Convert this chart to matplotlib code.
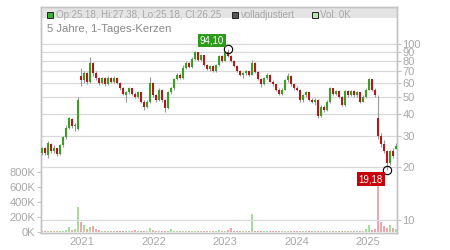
import numpy as np
import pandas as pd
import matplotlib
matplotlib.use("Agg")
import matplotlib.pyplot as plt
import matplotlib.dates as mdates
from matplotlib.patches import Rectangle

plt.rcParams['font.family'] = ['Liberation Sans', 'DejaVu Sans']

# candles (about one every 3 px)
opens = [
    24.0, 25.5, 23.5, 27.0, 24.5, 25.5, 23.8, 26.5, 29.5, 33.5,
    37.5, 34.0, 33.0, 66.0, 62.0, 68.0, 61.0, 78.0, 68.0, 64.0,
    60.0, 64.0, 59.0, 64.0, 61.0, 64.0, 60.0, 56.0, 51.0, 53.0,
    56.0, 52.0, 50.0, 53.0, 47.0, 44.0, 47.0, 60.0, 51.0, 48.0,
    55.0, 48.0, 43.0, 53.0, 56.0, 63.0, 67.0, 64.0, 73.0, 78.0,
    74.0, 82.0, 90.0, 81.0, 86.0, 76.0, 72.0, 75.0, 70.0, 76.0,
    85.0, 80.0, 90.0, 85.0, 80.0, 75.0, 70.0, 67.0, 68.0, 70.0,
    67.0, 78.0, 69.0, 63.0, 59.0, 64.0, 67.0, 61.0, 59.0, 55.0,
    52.0, 55.0, 62.0, 66.0, 59.0, 56.0, 55.0, 48.0, 51.0, 53.0,
    48.0, 47.0, 48.0, 39.0, 44.0, 42.0, 47.0, 56.0, 52.0, 54.0,
    50.0, 45.0, 54.0, 51.0, 54.0, 51.0, 53.0, 47.0, 50.0, 55.0,
    63.0, 55.0, 38.0, 30.0, 27.0, 24.5, 21.0, 24.5, 25.18,
]
closes = [
    25.5, 24.0, 27.5, 24.5, 25.5, 23.6, 26.5, 29.5, 33.5, 38.0,
    34.0, 34.5, 48.0, 62.0, 68.0, 61.0, 78.0, 68.0, 64.0, 60.0,
    64.0, 59.0, 64.0, 61.0, 64.0, 60.0, 56.0, 52.0, 53.0, 56.0,
    52.0, 50.0, 53.0, 47.0, 44.0, 47.0, 60.0, 51.0, 48.0, 55.0,
    48.0, 43.0, 53.0, 56.0, 63.0, 67.0, 64.0, 73.0, 78.0, 74.0,
    82.0, 90.0, 81.0, 86.0, 76.0, 72.0, 75.0, 70.0, 76.0, 85.0,
    80.0, 90.0, 85.0, 80.0, 75.0, 70.0, 67.0, 68.0, 70.0, 67.0,
    78.0, 69.0, 63.0, 59.0, 64.0, 67.0, 61.0, 59.0, 55.0, 52.0,
    55.0, 62.0, 66.0, 59.0, 56.0, 55.0, 48.0, 51.0, 53.0, 48.0,
    47.0, 48.0, 39.0, 44.0, 42.0, 47.0, 56.0, 52.0, 54.0, 50.0,
    45.0, 54.0, 51.0, 54.0, 51.0, 53.0, 47.0, 50.0, 55.0, 63.0,
    55.0, 51.0, 30.0, 27.0, 24.5, 21.0, 24.5, 23.0, 26.25,
]
highs = [
    26.0, 26.0, 28.0, 27.5, 26.5, 25.8, 27.0, 30.0, 34.5, 38.5,
    38.0, 35.5, 50.0, 73.0, 70.0, 69.0, 84.0, 79.0, 70.0, 65.0,
    65.0, 65.0, 66.0, 65.0, 65.5, 64.5, 61.0, 57.0, 54.0, 57.0,
    56.5, 53.5, 54.0, 53.5, 48.0, 48.0, 65.0, 61.0, 52.0, 56.0,
    55.5, 48.5, 54.0, 57.0, 64.0, 68.0, 68.0, 76.0, 80.0, 79.0,
    84.0, 91.0, 90.5, 87.0, 86.5, 77.0, 76.0, 75.5, 77.0, 86.0,
    87.0, 91.0, 94.10, 86.0, 81.0, 76.0, 71.0, 69.0, 71.0, 70.5,
    81.0, 78.5, 70.0, 64.0, 65.0, 68.0, 67.5, 62.0, 59.5, 56.0,
    56.0, 63.0, 68.0, 66.5, 59.5, 57.5, 55.5, 52.0, 54.0, 53.5,
    49.0, 49.0, 48.5, 45.0, 45.0, 48.0, 57.0, 56.5, 55.0, 54.5,
    50.5, 55.0, 55.0, 55.0, 54.5, 54.0, 53.5, 51.0, 56.0, 64.0,
    63.5, 56.0, 51.0, 31.0, 28.5, 25.0, 25.0, 25.5, 27.38,
]
lows = [
    23.5, 23.5, 22.5, 24.0, 24.0, 23.2, 23.5, 26.0, 29.0, 33.0,
    33.5, 32.0, 32.5, 58.0, 60.0, 59.0, 60.0, 66.0, 62.0, 58.5,
    59.0, 58.0, 58.5, 60.0, 60.0, 59.0, 55.0, 51.0, 47.0, 52.0,
    51.0, 49.0, 49.0, 46.0, 42.0, 43.0, 46.0, 50.0, 47.0, 47.5,
    47.0, 41.0, 42.5, 52.0, 55.0, 62.0, 63.0, 63.5, 72.0, 73.0,
    73.0, 81.0, 80.0, 80.0, 75.0, 71.0, 70.0, 69.0, 69.5, 75.0,
    79.0, 79.5, 84.0, 79.0, 74.0, 69.0, 66.0, 64.0, 67.0, 66.0,
    66.5, 68.0, 62.0, 57.0, 58.5, 63.0, 60.5, 58.0, 54.0, 51.0,
    51.5, 54.5, 61.0, 58.0, 55.0, 54.0, 47.0, 47.0, 50.0, 47.5,
    46.0, 45.0, 38.0, 38.5, 41.0, 41.5, 46.0, 51.0, 51.0, 49.0,
    44.5, 44.5, 50.0, 50.5, 50.0, 50.0, 46.0, 46.5, 49.5, 54.5,
    54.0, 50.0, 29.0, 26.0, 24.0, 19.18, 20.5, 22.5, 25.18,
]
# volume in thousands
volumes_k = [
    15, 12, 10, 8, 14, 9, 12, 18, 25, 65,
    30, 40, 330, 130, 90, 45, 70, 75, 40, 25,
    20, 15, 18, 12, 14, 20, 16, 12, 15, 10,
    14, 30, 12, 15, 20, 18, 55, 25, 12, 15,
    14, 18, 12, 40, 16, 14, 12, 18, 15, 20,
    14, 12, 18, 16, 20, 15, 12, 14, 16, 25,
    18, 14, 30, 60, 15, 12, 14, 10, 12, 15,
    235, 14, 12, 16, 10, 12, 15, 14, 12, 10,
    14, 16, 12, 10, 15, 14, 12, 16, 12, 10,
    14, 12, 15, 18, 12, 10, 14, 16, 12, 15,
    12, 10, 14, 12, 10, 8, 12, 15, 40, 90,
    30, 35, 760, 130, 80, 60, 90, 50, 40,
]

price_ticks = [10, 20, 30, 40, 50, 60, 70, 80, 90, 100]
vol_ticks = [0, 200000, 400000, 600000, 800000]
vol_labels = ['0K', '200K', '400K', '600K', '800K']
years = ['2021', '2022', '2023', '2024', '2025']

dates = pd.date_range('2020-06-10', '2025-05-23', periods=len(closes))
xd = mdates.date2num(dates)
o = np.array(opens)
c = np.array(closes)
h = np.array(highs)
l = np.array(lows)
up = c >= o
hi_idx = int(np.argmax(h))
lo_idx = int(np.argmin(l))

W, H = 450, 250
fig = plt.figure(figsize=(4.5, 2.5), dpi=100)
axv = fig.add_axes([41 / W, 17 / H, 356 / W, 226 / H])
ax = axv.twinx()

grey = '#a8a8a8'
edge = '#c4c4c4'

# volume (bottom axes)
axv.bar(xd, np.array(volumes_k) * 1000, width=9,
        color=np.where(up, '#a6dc9c', '#f2a3ab'), zorder=2)
axv.set_ylim(-13000, 3000000)
axv.set_yticks(vol_ticks)
axv.set_yticklabels(vol_labels)
axv.add_patch(Rectangle((0, 1 - 11 / 226), 1, 11 / 226, transform=axv.transAxes,
                        facecolor='#e4e4e4', edgecolor='none', zorder=0))

# price (top axes, log)
ax.set_yscale('log')
ax.set_ylim(8.44, 162)
ax.vlines(xd, l, h, colors='#9a9a9a', lw=0.8, zorder=3)
ax.vlines(xd, np.minimum(o, c), np.maximum(o, c),
          colors=np.where(up, '#3c9e24', '#b01a1a'), lw=1.5, zorder=4)
ax.set_yticks(price_ticks)
ax.set_yticklabels([str(t) for t in price_ticks])
ax.yaxis.set_minor_locator(matplotlib.ticker.NullLocator())

ax.plot(xd[hi_idx], h[hi_idx], 'o', ms=6, mfc='none', mec='black', mew=0.8, zorder=5)
ax.plot(xd[lo_idx], l[lo_idx], 'o', ms=6, mfc='none', mec='black', mew=0.8, zorder=5)
ax.annotate(f'{h[hi_idx]:.2f}'.replace('.', ','), xy=(xd[hi_idx], h[hi_idx]),
            xytext=(-4, 8), textcoords='offset pixels', ha='right', va='center',
            color='white', fontsize=7,
            bbox=dict(boxstyle='square,pad=0.2', fc='#2e9a1c', ec='none'), zorder=6)
ax.annotate(f'{l[lo_idx]:.2f}'.replace('.', ','), xy=(xd[lo_idx], l[lo_idx]),
            xytext=(-4, -9), textcoords='offset pixels', ha='right', va='center',
            color='white', fontsize=7,
            bbox=dict(boxstyle='square,pad=0.2', fc='#c8000a', ec='none'), zorder=6)

ax.set_xlim(mdates.date2num(pd.Timestamp('2020-06-05')),
            mdates.date2num(pd.Timestamp('2025-05-28')))
ax.set_xticks(mdates.date2num(pd.to_datetime([y + '-01-01' for y in years])))
axv.set_xticks(ax.get_xticks())
axv.set_xticklabels(years)
ax.grid(True, color='#d9d9d9', lw=0.9)

for a in (ax, axv):
    for s in a.spines.values():
        s.set_color(edge)
        s.set_linewidth(1)
    a.tick_params(colors=edge, labelcolor=grey, labelsize=8, length=3, width=0.8)
axv.tick_params(axis='x', length=0, pad=3)
ax.tick_params(axis='y', pad=1)
axv.tick_params(axis='y', pad=1)

# header legend
def fx(px):
    return px / W

def fy(py):
    return 1 - py / H

legend_items = [(46.5, '#3cb034', f'Op:{opens[-1]:.2f}, Hi:{highs[-1]:.2f}, '
                                  f'Lo:{lows[-1]:.2f}, Cl:{closes[-1]:.2f}'),
                (231.5, '#555555', 'volladjustiert'),
                (311.5, '#b8e6b0', 'Vol: 0K')]
for x0, col, txt in legend_items:
    fig.add_artist(Rectangle((fx(x0), fy(17.5)), 6 / W, 6 / H, transform=fig.transFigure,
                             facecolor=col, edgecolor='#222222', lw=0.7))
    fig.text(fx(x0 + 9), fy(14.5), txt, color=grey, fontsize=7.0, va='center', ha='left')

fig.text(fx(47), fy(29), '5 Jahre, 1-Tages-Kerzen', color='#8a8a8a', fontsize=8.2,
         va='center', ha='left')

fig.savefig('out.png', dpi=100)
